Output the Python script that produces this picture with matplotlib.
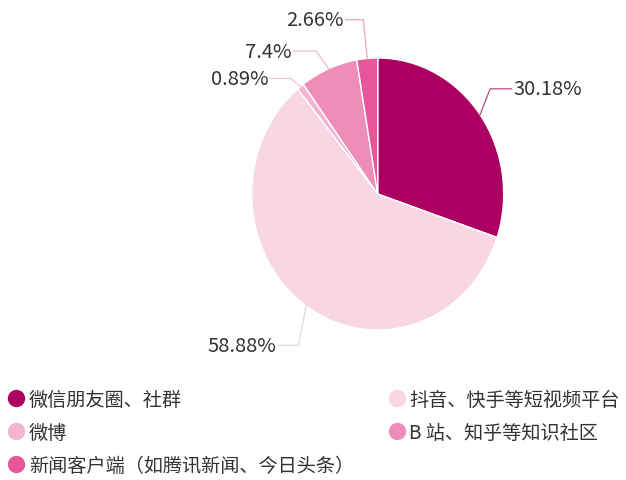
import numpy as np
import matplotlib.pyplot as plt
from matplotlib.lines import Line2D

plt.rcParams['font.family'] = ['Noto Sans CJK SC', 'DejaVu Sans']

# data
categories = ['微信朋友圈、社群', '抖音、快手等短视频平台', '微博',
              'B 站、知乎等知识社区', '新闻客户端（如腾讯新闻、今日头条）']
values = [30.18, 58.88, 0.89, 7.4, 2.66]
labels = ['30.18%', '58.88%', '0.89%', '7.4%', '2.66%']
colors = ['#AB0061', '#F9D6E4', '#F3B5CF', '#EE8DBA', '#E8559B']
line_colors = ['#B04C80', '#E6D6DC', '#EFC6D7', '#F0BCD2', '#EBA3C4']

# leader layout: elbow (dx, dy) from the edge point, horizontal run, side
leader = [
    ((0.08, 0.19), 0.17, 'left'),
    ((-0.06, -0.29), 0.16, 'right'),
    ((-0.08, 0.06), 0.16, 'right'),
    ((-0.10, 0.13), 0.18, 'right'),
    ((-0.03, 0.285), 0.14, 'right'),
]

fig = plt.figure(figsize=(6.26, 4.81), dpi=100)
ax = fig.add_axes([(377.7 - 126) / 626, (481 - 331) / 481, 252 / 626, 272 / 481])

wedges, _ = ax.pie(values, colors=colors, startangle=90, counterclock=False,
                   radius=1, wedgeprops=dict(edgecolor='white', linewidth=1))
ax.set_aspect('auto')
ax.set_xlim(-1, 1)
ax.set_ylim(-1, 1)
ax.axis('off')

for w, lab, lc, (elb, run, side) in zip(wedges, labels, line_colors, leader):
    ang = np.deg2rad((w.theta1 + w.theta2) / 2)
    x0, y0 = np.cos(ang), np.sin(ang)
    x1, y1 = x0 + elb[0], y0 + elb[1]
    if side == 'left':
        x2 = x1 + run
        ha = 'left'
        xt = x2 + 0.015
    else:
        x2 = x1 - run
        ha = 'right'
        xt = x2 - 0.015
    ax.plot([x0, x1, x2], [y0, y1, y1], color=lc, lw=0.9, clip_on=False)
    ax.text(xt, y1, lab, ha=ha, va='center', fontsize=14.5, color='#333333',
            fontweight='light', clip_on=False)

# legend: column-major order for 2 columns
order = [0, 2, 4, 1, 3]
handles = [Line2D([], [], marker='o', linestyle='none', markersize=12.5,
                  markerfacecolor=colors[i], markeredgecolor='none') for i in order]
fig.legend(handles, [categories[i] for i in order], ncol=2, loc='upper left',
           bbox_to_anchor=(0.0, 1 - 382 / 481), frameon=False, fontsize=13.8,
           handlelength=0.9, handletextpad=0.2, columnspacing=1.8,
           labelspacing=0.63, borderaxespad=0, labelcolor='#333333')

fig.savefig('out.png', dpi=100)
